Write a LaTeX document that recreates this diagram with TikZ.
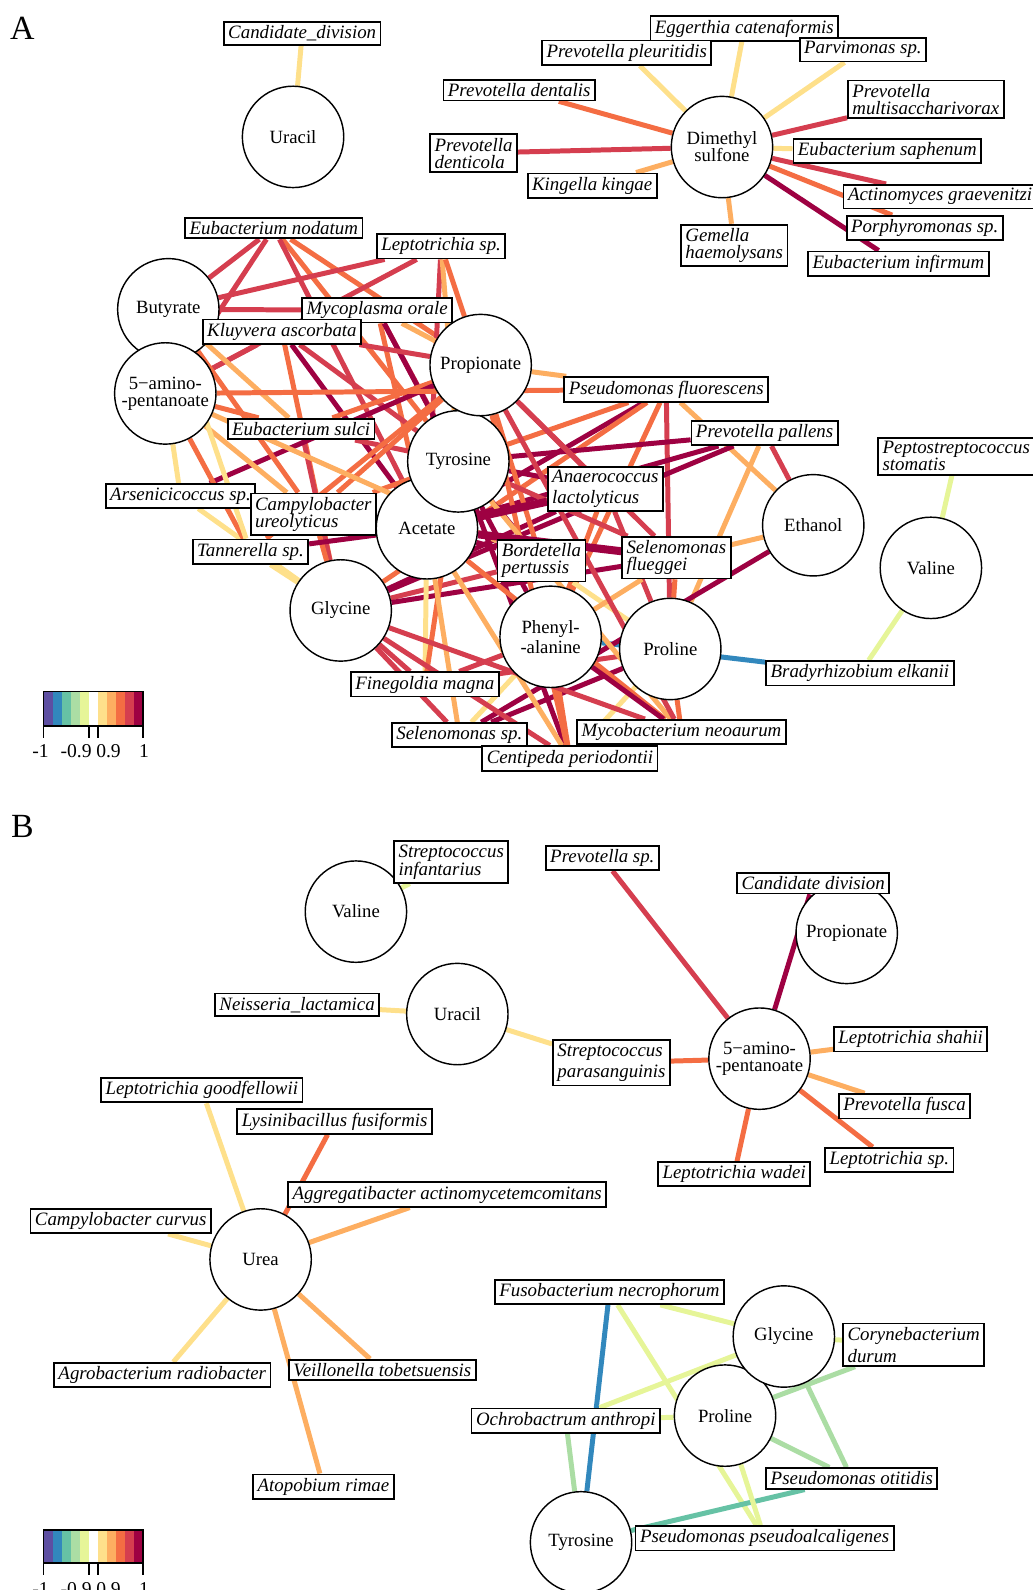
\documentclass[tikz,border=0pt]{standalone}
\usepackage{fontspec}
\setmainfont{Liberation Serif}
\usepackage{tikz}
\usetikzlibrary{positioning}
\pgfdeclarelayer{bg}
\pgfsetlayers{bg,main}

% spectral palette, dark red (1) to purple (11)
\definecolor{sp1}{HTML}{9E0142}
\definecolor{sp2}{HTML}{D53E4F}
\definecolor{sp3}{HTML}{F46D43}
\definecolor{sp4}{HTML}{FDAE61}
\definecolor{sp5}{HTML}{FEE08B}
\definecolor{sp7}{HTML}{E6F598}
\definecolor{sp8}{HTML}{ABDDA4}
\definecolor{sp9}{HTML}{66C2A5}
\definecolor{sp10}{HTML}{3288BD}
\definecolor{sp11}{HTML}{5E4FA2}

\newcommand\micfont[1]{\fontsize{10.6}{#1}\selectfont\itshape\lineskiplimit=-20pt\relax}
\newcommand\metfont[1]{\fontsize{10.5}{#1}\selectfont\lineskiplimit=-20pt\relax}

\tikzset{
  met/.style={circle, draw, fill=white, line width=0.8pt, minimum size=2cm, inner sep=0pt, align=center, font=\metfont{#1}},
  met/.default=9.5pt,
  mic/.style={draw, fill=white, line width=1pt, inner xsep=2.5pt, inner ysep=2pt, align=left, font=\micfont{#1}},
  mic/.default=9.6pt,
  corr/.style={line width=2.8pt},
  panel/.style={font=\fontsize{19}{19}\selectfont},
  tick/.style={font=\fontsize{11}{10}\selectfont, inner sep=0pt},
}

\begin{document}
\begin{tikzpicture}[x=0.02cm, y=-0.02cm]
    \useasboundingbox (0,0) rectangle (1018,1568);

    % ---------- panel A ----------
    \node[panel] (labA) at (22,28) {A};

    \node[met] (UraA) at (289,135) {Uracil};
    \node[met] (DMS) at (712,145) {Dimethyl\\sulfone};

    \node[met] (But) at (166,305) {Butyrate};
    \node[met] (Ami) at (163,388) {5−amino-\\-pentanoate};
    \node[met] (Ace) at (421,521) {Acetate};
    \node[met] (Tyr) at (452,455) {Tyrosine};
    \node[met] (Pro) at (474,360) {Propionate};
    \node[met] (Gly) at (336,602) {Glycine};
    \node[met=11.3pt] (Phe) at (543,628) {Phenyl-\\-alanine};
    \node[met] (Prl) at (661,640) {Proline};
    \node[met] (Eth) at (802,518) {Ethanol};
    \node[met] (Val) at (918,560) {Valine};

    \node[mic] (CDa) at (298,33) {Candidate\_division};
    \node[mic] (EC) at (734,28) {Eggerthia catenaformis};
    \node[mic] (PPl) at (618,52) {Prevotella pleuritidis};
    \node[mic] (PaS) at (851,49) {Parvimonas sp.};
    \node[mic] (PDe) at (512,89) {Prevotella dentalis};
    \node[mic] (PMu) at (913,98) {Prevotella\\multisaccharivorax};
    \node[mic] (PDc) at (467,151) {Prevotella\\denticola};
    \node[mic] (ESa) at (875,149) {Eubacterium saphenum};
    \node[mic] (KK) at (584,183) {Kingella kingae};
    \node[mic, anchor=west] (AG) at (831,194) {Actinomyces graevenitzii};
    \node[mic] (PoS) at (912,225) {Porphyromonas sp.};
    \node[mic] (GH) at (724,242) {Gemella\\haemolysans};
    \node[mic] (EI) at (886,260) {Eubacterium infirmum};

    \node[mic] (EN) at (270,225) {Eubacterium nodatum};
    \node[mic] (LS) at (435,243) {Leptotrichia sp.};
    \node[mic] (MO) at (372,306) {Mycoplasma orale};
    \node[mic] (KA) at (278,327) {Kluyvera ascorbata};
    \node[mic] (PF) at (657,384) {Pseudomonas fluorescens};
    \node[mic] (ES) at (297,423) {Eubacterium sulci};
    \node[mic] (PP) at (754,427) {Prevotella pallens};
    \node[mic] (PS) at (943,450) {Peptostreptococcus\\stomatis};
    \node[mic=11.3pt] (AL) at (597,482) {Anaerococcus\\lactolyticus};
    \node[mic] (AR) at (178,489) {Arsenicicoccus sp.};
    \node[mic] (CU) at (309,507) {Campylobacter\\ureolyticus};
    \node[mic] (TS) at (247,544) {Tannerella sp.};
    \node[mic] (BP) at (534,553) {Bordetella\\pertussis};
    \node[mic] (SF) at (667,550) {Selenomonas\\flueggei};
    \node[mic] (BE) at (848,664) {Bradyrhizobium elkanii};
    \node[mic] (FM) at (419,675) {Finegoldia magna};
    \node[mic] (MN) at (672,722) {Mycobacterium neoaurum};
    \node[mic] (SS) at (453,725) {Selenomonas sp.};
    \node[mic] (CP) at (562,748) {Centipeda periodontii};

    \begin{pgfonlayer}{bg}
        \foreach \a/\b/\c in {CDa/UraA/sp5,
            EC/DMS/sp5, PPl/DMS/sp5, PaS/DMS/sp5, PDe/DMS/sp3, PMu/DMS/sp2, PDc/DMS/sp2,
            ESa/DMS/sp5, KK/DMS/sp4, AG/DMS/sp2, PoS/DMS/sp3, GH/DMS/sp4, EI/DMS/sp1,
            EN/But/sp2, EN/Ami/sp2, EN/Pro/sp3, EN/Tyr/sp3, EN/Ace/sp2,
            LS/But/sp2, LS/Ami/sp2, LS/Ace/sp2, LS/Tyr/sp4, LS/Pro/sp3,
            MO/But/sp2, MO/Tyr/sp2, MO/Ace/sp3, MO/Pro/sp4, MO/Phe/sp1,
            KA/Ami/sp2, KA/Pro/sp2, KA/Tyr/sp2, KA/Ace/sp1, KA/Gly/sp3,
            ES/Ami/sp3, ES/Pro/sp3, ES/Tyr/sp2, ES/Gly/sp2, ES/But/sp4,
            AR/Ami/sp5, AR/Gly/sp5, AR/Pro/sp1, AR/Ace/sp3,
            CU/But/sp3, CU/Ami/sp4, CU/Pro/sp3, CU/Tyr/sp3, CU/Gly/sp3, CU/Ace/sp4,
            TS/Ace/sp1, TS/Gly/sp5, TS/Ami/sp3, TS/Pro/sp3, TS/But/sp5,
            PF/Pro/sp4, PF/Ami/sp3, PF/Tyr/sp3, PF/Ace/sp1, PF/Phe/sp3, PF/Prl/sp2, PF/Eth/sp4, PF/Gly/sp3,
            PP/Eth/sp2, PP/Prl/sp4, PP/Tyr/sp1, PP/Ace/sp1, PP/Gly/sp1,
            AL/Tyr/sp1, AL/Gly/sp1, AL/Phe/sp3, AL/Prl/sp2, AL/Pro/sp2,
            BP/Ace/sp1, BP/Tyr/sp1, BP/Gly/sp2, BP/Pro/sp3, BP/Prl/sp5, BP/Ami/sp4,
            SF/Gly/sp1, SF/Prl/sp3, SF/Eth/sp4, SF/Pro/sp2, SF/Tyr/sp2, SF/Phe/sp4,
            BE/Phe/sp10, BE/Val/sp7, PS/Val/sp7,
            FM/Ace/sp5, FM/Gly/sp2, FM/Prl/sp2, FM/Phe/sp2, FM/Tyr/sp3,
            SS/Gly/sp2, SS/Ace/sp4, SS/Prl/sp1, SS/Phe/sp5, SS/Eth/sp1,
            CP/Tyr/sp1, CP/Ace/sp4, CP/Gly/sp2, CP/Prl/sp5, CP/Phe/sp3, CP/Pro/sp3,
            MN/Gly/sp2, MN/Ace/sp3, MN/Phe/sp1, MN/Prl/sp3, MN/Tyr/sp4, MN/Pro/sp2} {
            \draw[corr,\c] (\a) -- (\b);
        }
        \draw[corr, sp1, line width=4.5pt] (AL) -- (Ace);
        \draw[corr, sp1, line width=4.5pt] (SF) -- (Ace);
    \end{pgfonlayer}

    % legend A
    \foreach \c [count=\k from 0] in {sp11,sp10,sp9,sp8,sp7,white,sp5,sp4,sp3,sp2,sp1} {
        \fill[\c] ({43+\k*8.9},682) rectangle ++(8.9,34);
    }
    \draw[line width=1pt] (43,682) rectangle (141,716);
    \foreach \t in {43,87.5,96.4,141} {
        \draw[line width=1pt] (\t,716) -- (\t,728);
    }
    \foreach \t/\s [count=\k] in {40/-1, 75/-0.9, 107/0.9, 142/1} {
        \node[tick] (legA\k) at (\t,741) {\s};
    }

    % ---------- panel B ----------
    \node[panel] (labB) at (22,815) {B};

    \node[met] (bVal) at (351,899) {Valine};
    \node[met] (bUra) at (451,1000) {Uracil};
    \node[met] (bPro) at (835,920) {Propionate};
    \node[met] (bAmi) at (749,1044) {5−amino-\\-pentanoate};
    \node[met] (bUrea) at (257,1242) {Urea};
    \node[met] (bPrl) at (715,1396) {Proline};
    \node[met] (bGly) at (773,1318) {Glycine};
    \node[met] (bTyr) at (573,1521) {Tyrosine};

    \node[mic=10pt] (bSI) at (445,850) {Streptococcus\\infantarius};
    \node[mic] (bNL) at (293,991) {Neisseria\_lactamica};
    \node[mic=12.3pt] (bSP) at (603,1048) {Streptococcus\\parasanguinis};
    \node[mic] (bPsp) at (594,846) {Prevotella sp.};
    \node[mic] (bCD) at (802,871) {Candidate division};
    \node[mic] (bLSh) at (898,1025) {Leptotrichia shahii};
    \node[mic] (bPFu) at (892,1091) {Prevotella fusca};
    \node[mic] (bLSp) at (877,1144) {Leptotrichia sp.};
    \node[mic] (bLW) at (724,1158) {Leptotrichia wadei};

    \node[mic] (bLG) at (199,1075) {Leptotrichia goodfellowii};
    \node[mic] (bLF) at (330,1106) {Lysinibacillus fusiformis};
    \node[mic] (bAA) at (441,1178) {Aggregatibacter actinomycetemcomitans};
    \node[mic] (bCC) at (119,1204) {Campylobacter curvus};
    \node[mic] (bAgR) at (160,1356) {Agrobacterium radiobacter};
    \node[mic] (bVT) at (377,1351) {Veillonella tobetsuensis};
    \node[mic] (bAtR) at (319,1466) {Atopobium rimae};

    \node[mic] (bFN) at (601,1274) {Fusobacterium necrophorum};
    \node[mic=12.3pt] (bCoD) at (901,1326) {Corynebacterium\\durum};
    \node[mic] (bOA) at (558,1401) {Ochrobactrum anthropi};
    \node[mic] (bPO) at (840,1458) {Pseudomonas otitidis};
    \node[mic] (bPPA) at (754,1517) {Pseudomonas pseudoalcaligenes};

    \begin{pgfonlayer}{bg}
        \foreach \a/\b/\c in {bSI/bVal/sp7, bNL/bUra/sp5, bSP/bUra/sp5, bSP/bAmi/sp3,
            bPsp/bAmi/sp2, bCD/bAmi/sp1, bCD/bPro/sp4, bLSh/bAmi/sp4, bPFu/bAmi/sp4,
            bLSp/bAmi/sp3, bLW/bAmi/sp3,
            bLG/bUrea/sp5, bLF/bUrea/sp3, bAA/bUrea/sp4, bCC/bUrea/sp5,
            bAgR/bUrea/sp5, bVT/bUrea/sp4, bAtR/bUrea/sp4,
            bFN/bTyr/sp10, bFN/bGly/sp7, bFN/bPPA/sp7, bOA/bGly/sp7, bOA/bPrl/sp7,
            bOA/bTyr/sp8, bCoD/bGly/sp7, bCoD/bPrl/sp8, bPO/bGly/sp8, bPO/bPrl/sp8,
            bPO/bTyr/sp9, bPPA/bPrl/sp7} {
            \draw[corr,\c] (\a) -- (\b);
        }
    \end{pgfonlayer}

    % legend B
    \foreach \c [count=\k from 0] in {sp11,sp10,sp9,sp8,sp7,white,sp5,sp4,sp3,sp2,sp1} {
        \fill[\c] ({43+\k*8.9},1509) rectangle ++(8.9,32);
    }
    \draw[line width=1pt] (43,1509) rectangle (141,1541);
    \foreach \t in {43,87.5,96.4,141} {
        \draw[line width=1pt] (\t,1541) -- (\t,1553);
    }
    \foreach \t/\s [count=\k] in {40/-1, 75/-0.9, 107/0.9, 142/1} {
        \node[tick] (legB\k) at (\t,1567) {\s};
    }
\end{tikzpicture}
\end{document}
